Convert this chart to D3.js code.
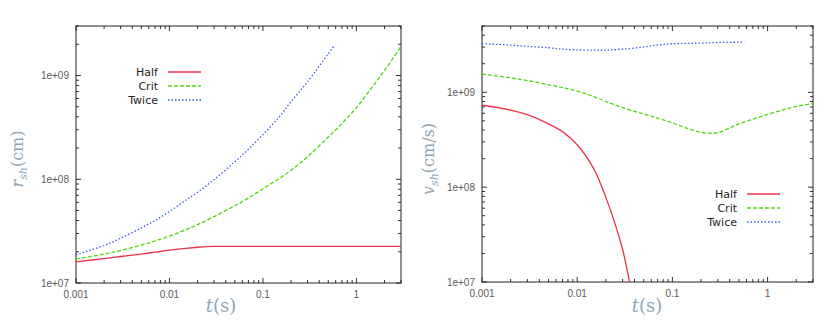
<!DOCTYPE html>
<html lang="en">
<head>
<meta charset="utf-8">
<script src="https://cdn.jsdelivr.net/npm/d3@7"></script>
<style type="text/css">
body { margin:0; background:#fff; }
.tick-label { font: 10px "Liberation Sans", Arial, sans-serif; fill:#5a5a5a; }
.leg { font: 11px "DejaVu Sans", sans-serif; fill:#222; }
.axlab { font-family: "DejaVu Serif", "Liberation Serif", serif; fill:#8fa7b6; }
</style>
</head>
<body>
<script type="text/javascript">

// legend / series names
var seriesNames = ["Half", "Crit", "Twice"];
var seriesColors = ["#ee3348", "#4fd80f", "#3a5cf0"];
var seriesDash = [null, "4,2", "1.5,2"];

var xTickLabels = ["0.001", "0.01", "0.1", "1"];
var yTickLabels = ["1e+07", "1e+08", "1e+09"];

// left panel: shock radius r_sh (cm)
var tLeft = [0.001, 0.002, 0.003, 0.005, 0.007, 0.01, 0.015, 0.02, 0.03, 0.05, 0.07, 0.1, 0.15, 0.2, 0.3, 0.5, 0.7, 1, 1.5, 2, 3];
var rHalf = [1.6e7, 1.72e7, 1.8e7, 1.9e7, 1.98e7, 2.07e7, 2.16e7, 2.21e7, 2.25e7, 2.25e7, 2.25e7, 2.25e7, 2.25e7, 2.25e7, 2.25e7, 2.25e7, 2.25e7, 2.25e7, 2.25e7, 2.25e7, 2.25e7];
var rCrit = [1.7e7, 1.9e7, 2.06e7, 2.32e7, 2.54e7, 2.83e7, 3.27e7, 3.65e7, 4.37e7, 5.55e7, 6.6e7, 8.1e7, 1.02e8, 1.22e8, 1.65e8, 2.55e8, 3.45e8, 4.9e8, 7.9e8, 1.12e9, 1.9e9];
var tTwiceL = [0.001, 0.002, 0.003, 0.005, 0.007, 0.01, 0.015, 0.02, 0.03, 0.05, 0.07, 0.1, 0.15, 0.2, 0.3, 0.5, 0.57];
var rTwice = [1.87e7, 2.3e7, 2.7e7, 3.4e7, 4.0e7, 4.9e7, 6.3e7, 7.5e7, 9.9e7, 1.47e8, 1.95e8, 2.7e8, 4.0e8, 5.6e8, 8.7e8, 1.62e9, 1.9e9];

// right panel: shock velocity v_sh (cm/s)
var tHalfR = [0.001, 0.002, 0.003, 0.005, 0.007, 0.01, 0.015, 0.02, 0.025, 0.03, 0.0355];
var vHalf = [7.3e8, 6.5e8, 5.8e8, 4.65e8, 3.85e8, 2.8e8, 1.55e8, 7.8e7, 4.1e7, 2.2e7, 1.0e7];
var tCritR = [0.001, 0.002, 0.003, 0.005, 0.007, 0.01, 0.015, 0.02, 0.03, 0.05, 0.07, 0.1, 0.15, 0.2, 0.25, 0.3, 0.4, 0.5, 0.7, 1, 1.5, 2, 3];
var vCrit = [1.55e9, 1.42e9, 1.33e9, 1.2e9, 1.12e9, 1.03e9, 9.0e8, 8.0e8, 6.9e8, 5.9e8, 5.35e8, 4.75e8, 4.1e8, 3.78e8, 3.7e8, 3.75e8, 4.2e8, 4.65e8, 5.2e8, 5.85e8, 6.6e8, 7.1e8, 7.6e8];
var tTwiceR = [0.001, 0.002, 0.003, 0.005, 0.007, 0.01, 0.015, 0.02, 0.03, 0.05, 0.07, 0.1, 0.2, 0.3, 0.57];
var vTwice = [3.25e9, 3.15e9, 3.05e9, 2.95e9, 2.85e9, 2.8e9, 2.78e9, 2.78e9, 2.85e9, 3.0e9, 3.15e9, 3.25e9, 3.3e9, 3.35e9, 3.38e9];

var svg = d3.select("body").append("svg")
	.attr("width", 830)
	.attr("height", 328);

function zip(t, v) { return t.map(function(d, i){ return [d, v[i]]; }); }

function panel(opt) {
	var x = d3.scaleLog().domain([0.001, 3]).range([opt.x0, opt.x1]);
	var y = d3.scaleLog().domain([1e7, opt.ymax]).range([opt.y1, opt.y0]);
	var g = svg.append("g");

	var clipId = "clip" + opt.id;
	g.append("clipPath").attr("id", clipId).append("rect")
		.attr("x", opt.x0).attr("y", opt.y0)
		.attr("width", opt.x1 - opt.x0).attr("height", opt.y1 - opt.y0);

	// ticks (gnuplot style, inward, mirrored)
	var xt = x.ticks().filter(function(d){ return d >= 0.001 && d <= 3; });
	xt.forEach(function(d) {
		var major = xTickLabels.indexOf(String(d)) >= 0;
		var len = major ? 5 : 3;
		g.append("line").attr("x1", x(d)).attr("x2", x(d)).attr("y1", opt.y1).attr("y2", opt.y1 - len).attr("stroke", "#333");
		g.append("line").attr("x1", x(d)).attr("x2", x(d)).attr("y1", opt.y0).attr("y2", opt.y0 + len).attr("stroke", "#333");
	});
	var yt = y.ticks().filter(function(d){ return d >= 1e7 && d <= opt.ymax; });
	yt.forEach(function(d) {
		var major = Math.abs(Math.log10(d) - Math.round(Math.log10(d))) < 1e-9;
		var len = major ? 5 : 3;
		g.append("line").attr("y1", y(d)).attr("y2", y(d)).attr("x1", opt.x0).attr("x2", opt.x0 + len).attr("stroke", "#333");
		g.append("line").attr("y1", y(d)).attr("y2", y(d)).attr("x1", opt.x1).attr("x2", opt.x1 - len).attr("stroke", "#333");
	});

	// tick labels
	xTickLabels.forEach(function(s) {
		g.append("text").attr("class", "tick-label")
			.attr("x", x(+s)).attr("y", opt.y1 + 15)
			.attr("text-anchor", "middle").text(s);
	});
	yTickLabels.forEach(function(s) {
		g.append("text").attr("class", "tick-label")
			.attr("x", opt.x0 - 7).attr("y", y(+s) + 3.5)
			.attr("text-anchor", "end").text(s);
	});

	// frame
	g.append("rect").attr("x", opt.x0).attr("y", opt.y0)
		.attr("width", opt.x1 - opt.x0).attr("height", opt.y1 - opt.y0)
		.attr("fill", "none").attr("stroke", "#222").attr("stroke-width", 1);

	// curves
	var line = d3.line()
		.x(function(d){ return x(d[0]); })
		.y(function(d){ return y(d[1]); })
		.curve(d3.curveCatmullRom.alpha(0.5));
	opt.series.forEach(function(s, i) {
		g.append("path")
			.attr("clip-path", "url(#" + clipId + ")")
			.attr("d", line(s))
			.attr("fill", "none")
			.attr("stroke", seriesColors[i])
			.attr("stroke-width", 1.3)
			.attr("stroke-dasharray", seriesDash[i]);
	});

	// legend
	seriesNames.forEach(function(n, i) {
		var yy = opt.legY + i * 14;
		g.append("text").attr("class", "leg")
			.attr("x", opt.legX).attr("y", yy + 4)
			.attr("text-anchor", "end").text(n);
		g.append("line")
			.attr("x1", opt.legX + 10).attr("x2", opt.legX + 43)
			.attr("y1", yy).attr("y2", yy)
			.attr("stroke", seriesColors[i]).attr("stroke-width", 1.3)
			.attr("stroke-dasharray", seriesDash[i]);
	});

	// axis labels
	var xl = g.append("text").attr("class", "axlab")
		.attr("x", opt.xlabX).attr("y", 312)
		.attr("text-anchor", "middle").style("font-size", "18px");
	xl.append("tspan").style("font-style", "italic").text("t");
	xl.append("tspan").text("(s)");

	var yl = g.append("text").attr("class", "axlab")
		.attr("transform", "translate(" + opt.ylabX + ",159) rotate(-90)")
		.attr("text-anchor", "middle").style("font-size", "16px");
	yl.append("tspan").style("font-style", "italic").text(opt.ysym);
	yl.append("tspan").style("font-style", "italic").style("font-size", "11px").attr("dy", 4).text("sh");
	yl.append("tspan").attr("dy", -4).text(opt.yunit);
}

panel({
	id: "L", x0: 76, x1: 401, y0: 26, y1: 283, ymax: 3e9,
	series: [zip(tLeft, rHalf), zip(tLeft, rCrit), zip(tTwiceL, rTwice)],
	legX: 158, legY: 72, ylabX: 23, xlabX: 221, ysym: "r", yunit: "(cm)"
});

panel({
	id: "R", x0: 482, x1: 813, y0: 26, y1: 282, ymax: 5e9,
	series: [zip(tHalfR, vHalf), zip(tCritR, vCrit), zip(tTwiceR, vTwice)],
	legX: 737, legY: 194, ylabX: 434, xlabX: 647, ysym: "v", yunit: "(cm/s)"
});

</script>
</body>
</html>
